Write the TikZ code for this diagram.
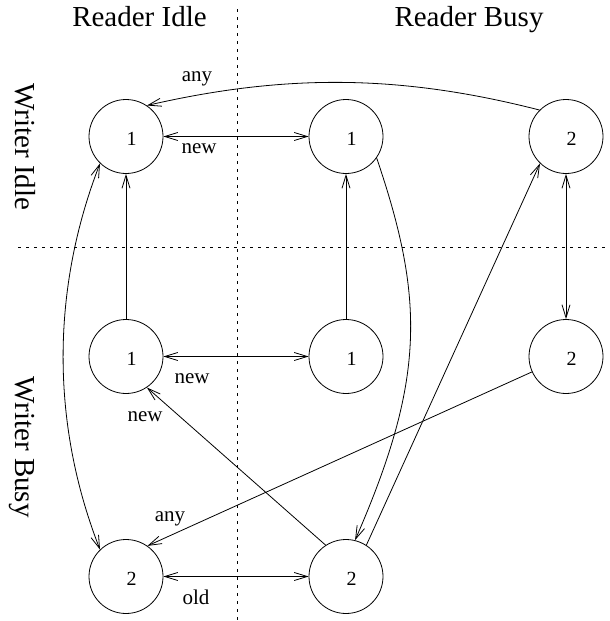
\documentclass[tikz,border=0pt]{standalone}
\usepackage{fontspec}
\setmainfont{Liberation Serif}
\usetikzlibrary{arrows.meta}
\begin{document}
\begin{tikzpicture}[x=1pt,y=-1pt,
  st/.style={circle,draw,line width=0.8pt,minimum size=74pt,inner sep=0pt,
    label={[font=\fontsize{20}{22}\selectfont,inner sep=0pt,xshift=5.5pt,yshift=-2.6pt]center:#1}},
  arr/.style={line width=0.8pt,>={Straight Barb[length=13pt,width=8pt]}},
  hdr/.style={font=\fontsize{29}{32}\selectfont,anchor=base,inner sep=0pt},
  lab/.style={font=\fontsize{21}{24}\selectfont,anchor=base,inner sep=0pt},
  sep/.style={line width=0.8pt,dash pattern=on 3pt off 5pt}]
\useasboundingbox (0,0) rectangle (610,621);
% separators
\draw[sep] (237,9) -- (237,621);
\draw[sep] (18,247) -- (605,247);
% headers
\node[hdr] (h1) at (139.5,27) {Reader Idle};
\node[hdr] (h2) at (469,27) {Reader Busy};
\node[hdr,rotate=-90] (h3) at (16,147) {Writer Idle};
\node[hdr,rotate=-90] (h4) at (16,447) {Writer Busy};
% states
\node[st=1] (a1) at (126,136.5) {};
\node[st=1] (b1) at (346,136.5) {};
\node[st=2] (c1) at (566,136.5) {};
\node[st=1] (a2) at (126,356.5) {};
\node[st=1] (b2) at (346,356.5) {};
\node[st=2] (c2) at (566,356.5) {};
\node[st=2] (a3) at (126,576.5) {};
\node[st=2] (b3) at (346,576.5) {};
% transitions
\draw[arr,->] (c1.135.5) .. controls (399,74) and (284,74) .. (a1.56);
\draw[arr,<->] (a1) -- (b1);
\draw[arr,->] (a2) -- (a1);
\draw[arr,->] (b2) -- (b1);
\draw[arr,<->] (c1) -- (c2);
\draw[arr,<->] (a2) -- (b2);
\draw[arr,<->] (a3) -- (b3);
\draw[arr,->] (b3.123) -- (a2.-56);
\draw[arr,->] (c2) -- (a3.55);
\draw[arr,->] (b3.57) -- (c1.226.5);
\draw[arr,->] (b1.-35) .. controls (425,300) and (425,380) .. (b3.76);
\draw[arr,<->] (a1.226.5) .. controls (51,290) and (51,424) .. (a3.134.5);
% labels
\node[lab] (l1) at (197,81.5) {any};
\node[lab] (l2) at (199,153) {new};
\node[lab] (l3) at (192,383) {new};
\node[lab] (l4) at (145,421) {new};
\node[lab] (l5) at (170,521.5) {any};
\node[lab] (l6) at (196,604) {old};
\end{tikzpicture}
\end{document}
